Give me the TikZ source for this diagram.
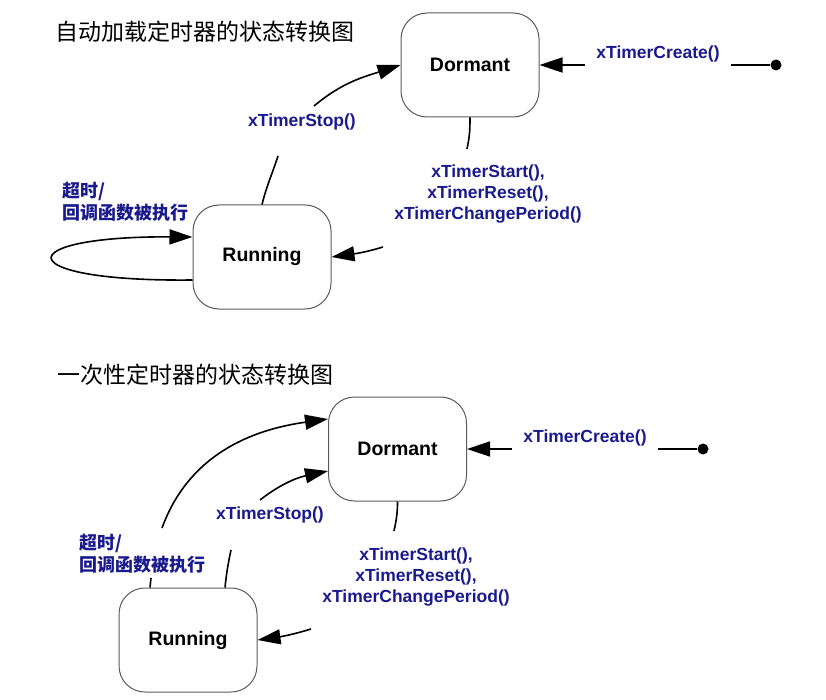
\documentclass[tikz,border=0pt]{standalone}
\usepackage{fontspec}
\setmainfont{Liberation Sans}
\newfontfamily\cjk{Noto Sans CJK SC}
\usepackage{tikz}
\usetikzlibrary{arrows.meta}
\definecolor{fnblue}{RGB}{26,26,140}
\definecolor{boxgray}{RGB}{90,90,90}

\begin{document}
\begin{tikzpicture}[x=1pt, y=1pt, line width=1.6pt,
		state/.style={draw=boxgray, line width=1pt, rounded corners=26pt, minimum width=138pt, minimum height=104pt, font=\fontsize{19.5}{22}\selectfont\bfseries},
		fn/.style={text=fnblue, inner sep=0pt, font=\fontsize{17.5}{21}\selectfont\bfseries},
		cn/.style={text=fnblue, inner sep=0pt, align=left, font=\cjk\fontsize{18}{22}\selectfont\bfseries},
		ttl/.style={anchor=west, inner sep=0pt, font=\cjk\fontsize{23}{26}\selectfont},
		dot/.style={circle, fill, inner sep=0pt, minimum size=11pt},
		arr/.style={-{Triangle[length=23pt, width=15pt]}}]
			\useasboundingbox (0,0) rectangle (826,-700);
			\node[ttl] (t1) at (55,-32) {自动加载定时器的状态转换图};
			\node[state] (dorm1) at (470,-65) {Dormant};
			\node[state] (run1) at (262,-257) {Running};
			\node[fn] (c1) at (658,-54) {xTimerCreate()};
			\node[dot] (s1) at (776,-65) {};
			\coordinate (c1a) at (585,-65);
			\coordinate (c1b) at (731,-65);
			\draw[arr] (c1a) -- (dorm1.east);
			\draw (c1b) -- (s1);
			\node[fn] (stop1) at (302,-122) {xTimerStop()};
			\coordinate (stop1a) at (278,-156);
			\coordinate (stop1b) at (314,-106);
			\draw (run1.north) to[out=76, in=252] (stop1a);
			\draw[arr] (stop1b) to[out=40, in=198] (dorm1.west);
			\node[fn, align=center] (go1) at (488,-194) {xTimerStart(),\\xTimerReset(),\\xTimerChangePeriod()};
			\coordinate (go1a) at (467,-149);
			\coordinate (go1b) at (383,-247);
			\draw (dorm1.south) to[out=-90, in=78] (go1a);
			\draw[arr] (go1b) to[out=197, in=8] (run1.east);
			\node[cn, anchor=west] (to1) at (62,-202) {超时/\\回调函数被执行};
			\draw[arr] ([yshift=-23pt]run1.west) .. controls (8,-282) and (8,-236) .. ([yshift=20pt]run1.west);

			\node[ttl] (t2) at (57,-375) {一次性定时器的状态转换图};
			\node[state] (dorm2) at (397.5,-449) {Dormant};
			\node[state] (run2) at (188,-640) {Running};
			\node[fn] (c2) at (585,-438) {xTimerCreate()};
			\node[dot] (s2) at (703,-449) {};
			\coordinate (c2a) at (512,-449);
			\coordinate (c2b) at (658,-449);
			\draw[arr] (c2a) -- (dorm2.east);
			\draw (c2b) -- (s2);
			\node[cn, anchor=west] (to2) at (79,-554) {超时/\\回调函数被执行};
			\coordinate (to2a) at (151,-578);
			\coordinate (to2b) at (162,-528);
			\draw ([xshift=-38pt]run2.north) -- (to2a);
			\draw[arr] (to2b) to[out=70, in=188] ([yshift=30pt]dorm2.west);
			\node[fn] (stop2) at (270,-515) {xTimerStop()};
			\coordinate (stop2a) at (231,-550);
			\coordinate (stop2b) at (260,-500);
			\draw ([xshift=37pt]run2.north) to[out=84, in=258] (stop2a);
			\draw[arr] (stop2b) to[out=38, in=192] ([yshift=-22pt]dorm2.west);
			\node[fn, align=center] (go2) at (416,-577) {xTimerStart(),\\xTimerReset(),\\xTimerChangePeriod()};
			\coordinate (go2a) at (394,-531);
			\coordinate (go2b) at (311,-629);
			\draw (dorm2.south) to[out=-90, in=78] (go2a);
			\draw[arr] (go2b) to[out=197, in=8] (run2.east);
		\end{tikzpicture}
\end{document}
